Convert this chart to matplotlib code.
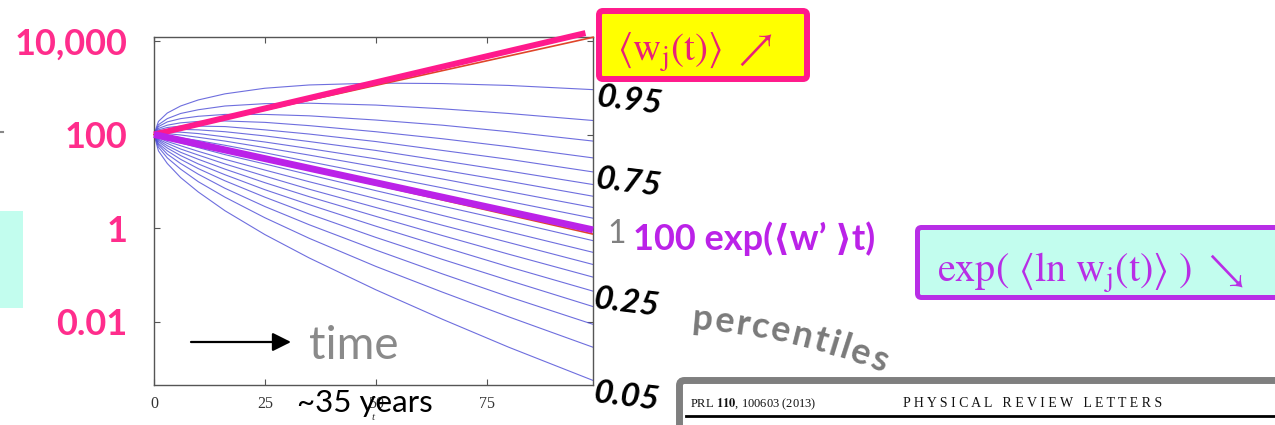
import numpy as np
import matplotlib
matplotlib.use('Agg')
from matplotlib import pyplot as plt
from matplotlib.patches import FancyBboxPatch, Rectangle
from matplotlib.ticker import FixedLocator, NullLocator

W, H = 1275, 425

# sample times of the simulated wealth trajectories
t = [0, 1, 3, 6, 10, 16, 25, 35, 50, 65, 80, 99]

# wealth percentiles, stored as log10(w); everybody starts at w = 100
percentile_levels = [0.95, 0.90, 0.85, 0.80, 0.75, 0.70, 0.65, 0.60, 0.55, 0.50,
                     0.45, 0.40, 0.35, 0.30, 0.25, 0.20, 0.15, 0.10, 0.05]
percentile_log10 = [
    [2.00, 2.28, 2.46, 2.61, 2.74, 2.87, 2.99, 3.06, 3.10, 3.09, 3.05, 2.96],
    [2.00, 2.21, 2.34, 2.45, 2.53, 2.61, 2.66, 2.67, 2.63, 2.55, 2.45, 2.30],
    [2.00, 2.17, 2.27, 2.34, 2.39, 2.43, 2.43, 2.40, 2.31, 2.20, 2.06, 1.86],
    [2.00, 2.13, 2.20, 2.25, 2.28, 2.29, 2.26, 2.19, 2.06, 1.91, 1.74, 1.50],
    [2.00, 2.10, 2.15, 2.18, 2.18, 2.17, 2.10, 2.01, 1.85, 1.66, 1.47, 1.20],
    [2.00, 2.08, 2.10, 2.11, 2.10, 2.06, 1.97, 1.85, 1.66, 1.44, 1.22, 0.93],
    [2.00, 2.05, 2.06, 2.05, 2.02, 1.95, 1.84, 1.70, 1.48, 1.24, 1.00, 0.68],
    [2.00, 2.03, 2.02, 1.99, 1.94, 1.86, 1.72, 1.56, 1.31, 1.05, 0.78, 0.44],
    [2.00, 2.00, 1.98, 1.93, 1.87, 1.77, 1.61, 1.42, 1.14, 0.86, 0.57, 0.21],
    [2.00, 1.98, 1.94, 1.88, 1.80, 1.67, 1.49, 1.29, 0.98, 0.67, 0.37, -0.02],
    [2.00, 1.96, 1.90, 1.82, 1.72, 1.57, 1.37, 1.14, 0.80, 0.47, 0.15, -0.27],
    [2.00, 1.93, 1.85, 1.76, 1.64, 1.47, 1.24, 0.99, 0.63, 0.27, -0.08, -0.52],
    [2.00, 1.90, 1.81, 1.69, 1.56, 1.37, 1.11, 0.83, 0.44, 0.06, -0.31, -0.78],
    [2.00, 1.88, 1.76, 1.62, 1.47, 1.26, 0.97, 0.67, 0.25, -0.16, -0.56, -1.05],
    [2.00, 1.85, 1.71, 1.55, 1.37, 1.14, 0.82, 0.50, 0.04, -0.40, -0.83, -1.35],
    [2.00, 1.81, 1.65, 1.47, 1.27, 1.01, 0.66, 0.30, -0.20, -0.67, -1.12, -1.68],
    [2.00, 1.78, 1.58, 1.38, 1.15, 0.85, 0.46, 0.07, -0.47, -0.98, -1.47, -2.06],
    [2.00, 1.73, 1.50, 1.26, 0.99, 0.66, 0.22, -0.22, -0.82, -1.37, -1.90, -2.55],
    [2.00, 1.65, 1.38, 1.08, 0.77, 0.37, -0.14, -0.64, -1.32, -1.95, -2.55, -3.26],
]

# ensemble average <w_j(t)> (thick pink) and the underlying fit (thin red)
mean_t = [0, 97.3]
mean_log10 = [2.0, 4.17]
mean_fit_t = [0, 99]
mean_fit_log10 = [2.0, 4.08]

# 100 exp(<w'>t), the time-average growth (thick purple) and its fit (thin red)
geo_t = [0, 99]
geo_log10 = [2.0, -0.04]
geo_fit_log10 = [2.0, -0.13]

x_ticks = [0, 25, 50, 75]
y_ticks = [0.01, 1, 100, 10000]
y_tick_labels = ['0.01', '1', '100', '10,000']
side_labels = ['0.95', '0.75', '0.25', '0.05']

PINK = '#ff1a8c'
PURPLE = '#bb22e8'
AQUA = '#c2fdee'
BLUE = '#4a4ad6'

fig = plt.figure(figsize=(W / 100, H / 100), dpi=100)
fig.patch.set_facecolor('white')

ax = fig.add_axes([154 / W, 1 - 385 / H, (593 - 154) / W, (385 - 37) / H])
ax.set_yscale('log')
ax.set_xlim(0, 99)
ax.set_ylim(10 ** -3.358, 10 ** 4.086)

for vals in percentile_log10:
    ax.plot(t, 10 ** np.array(vals), color=BLUE, lw=0.8, alpha=0.8, zorder=2)

ax.plot(mean_fit_t, 10 ** np.array(mean_fit_log10), color='#e0452a', lw=1.2,
        zorder=3, clip_on=False)
ax.plot(mean_t, 10 ** np.array(mean_log10), color=PINK, lw=4.3,
        solid_capstyle='butt', zorder=4, clip_on=False)
ax.plot(geo_t, 10 ** np.array(geo_fit_log10), color='#e0452a', lw=1.2, zorder=3)
ax.plot(geo_t, 10 ** np.array(geo_log10), color=PURPLE, lw=5,
        solid_capstyle='butt', zorder=4, clip_on=False)

ax.xaxis.set_major_locator(FixedLocator(x_ticks))
ax.yaxis.set_major_locator(FixedLocator(y_ticks))
ax.yaxis.set_minor_locator(NullLocator())
ax.set_yticklabels(y_tick_labels)
ax.tick_params(which='both', direction='in', top=True, right=True, length=4,
               color='#555555')
ax.tick_params(axis='x', pad=8, labelsize=11.5, labelcolor='#333333')
ax.tick_params(axis='y', pad=19)
for lab in ax.get_xticklabels():
    lab.set_family('Liberation Serif')
for lab in ax.get_yticklabels():
    lab.set_family('Lato')
    lab.set_fontweight('bold')
    lab.set_fontsize(26)
    lab.set_color('#ff2d8c')
ax.set_xlabel('t', fontsize=8, style='italic', family='Liberation Serif',
              labelpad=1, color='#333333')
for sp in ax.spines.values():
    sp.set_color('#555555')
    sp.set_linewidth(1.0)

# annotation layer in pixel coordinates
ov = fig.add_axes([0, 0, 1, 1], zorder=5)
ov.set_xlim(0, W)
ov.set_ylim(H, 0)
ov.axis('off')

ov.add_patch(Rectangle((0, 211), 23, 97, fc=AQUA, ec='none'))
ov.plot([0, 3], [132, 132], color='#888888', lw=1.5)

ov.add_patch(FancyBboxPatch((599, 11), 208, 68,
                            boxstyle='round,pad=0,rounding_size=4',
                            fc='#ffff00', ec=PINK, lw=4.3))
ov.text(617, 61, r'$\langle\mathrm{w}_{\mathrm{j}}(\mathrm{t})\rangle\ \nearrow$',
        color='#e8207a', fontsize=28, math_fontfamily='stix',
        ha='left', va='baseline')

ov.add_patch(FancyBboxPatch((917.5, 227.5), 400, 70,
                            boxstyle='round,pad=0,rounding_size=4',
                            fc=AQUA, ec='#b82ee6', lw=3.6))
ov.text(937, 282,
        r'$\mathrm{exp(}\ \langle\mathrm{ln\ w}_{\mathrm{j}}(\mathrm{t})\rangle\ )\ \searrow$',
        color='#b82ee6', fontsize=29, math_fontfamily='stix',
        ha='left', va='baseline')

ov.text(617, 234, '1', color='#808080', fontsize=23, family='Lato',
        ha='center', va='center')
ov.text(633, 250, '100 exp(\u27e8w\u2019 \u27e9t)', color=PURPLE, fontsize=26,
        fontweight='bold', family=['Lato', 'DejaVu Sans'],
        ha='left', va='baseline')

for lab, (x, y) in zip(side_labels, [(629, 101), (628, 183), (626, 303), (626, 397)]):
    ov.text(x, y, lab, fontsize=24, fontweight='bold', style='italic',
            family='Lato', rotation=-7, rotation_mode='anchor',
            ha='center', va='center', color='black')

ov.annotate('', xy=(291, 342), xytext=(191, 342),
            arrowprops=dict(arrowstyle='-|>,head_length=0.8,head_width=0.4',
                            color='black', lw=1.6, mutation_scale=14,
                            shrinkA=0, shrinkB=0))
ov.text(309, 359, 'time', color='#8a8a8a', fontsize=33, family='Lato',
        ha='left', va='baseline')
ov.text(297, 412, '~35 years', color='black', fontsize=22.5, family='Lato',
        ha='left', va='baseline')

# "percentiles" bent along an arc
word = 'percentiles'
em_width = {'p': .60, 'e': .54, 'r': .39, 'c': .48, 'n': .60,
            't': .38, 'i': .27, 'l': .27, 's': .45}
size = 26
em_px = size * 100 / 72
R = 637.0
phi0 = np.deg2rad(86)
cx = 690 - R * np.cos(phi0)
cy = 329 + R * np.sin(phi0)
pos = 0.0
for ch in word:
    w = em_width[ch] * em_px + 1.5
    phi = phi0 - (pos + w / 2) / R
    ov.text(cx + R * np.cos(phi), cy - R * np.sin(phi), ch, fontsize=size,
            fontweight='bold', family='Lato', color='#7a7a7a',
            rotation=np.rad2deg(phi) - 90, rotation_mode='anchor',
            ha='center', va='baseline')
    pos += w

# journal header
ov.add_patch(FancyBboxPatch((679.5, 380.5), 700, 100,
                            boxstyle='round,pad=0,rounding_size=5',
                            fc='white', ec='#7f7f7f', lw=5))
ov.text(690, 407, r'PRL $\mathbf{110}$, 100603 (2013)', fontsize=9,
        family='Liberation Serif', math_fontfamily='stix', color='#111111',
        ha='left', va='baseline')
ov.text(903, 407, 'P H Y S I C A L   R E V I E W   L E T T E R S', fontsize=10,
        family='Liberation Serif', color='#111111', ha='left', va='baseline')
ov.plot([686, 1275], [416, 416], color='black', lw=2)

fig.savefig('out.png', dpi=100, facecolor='white')
